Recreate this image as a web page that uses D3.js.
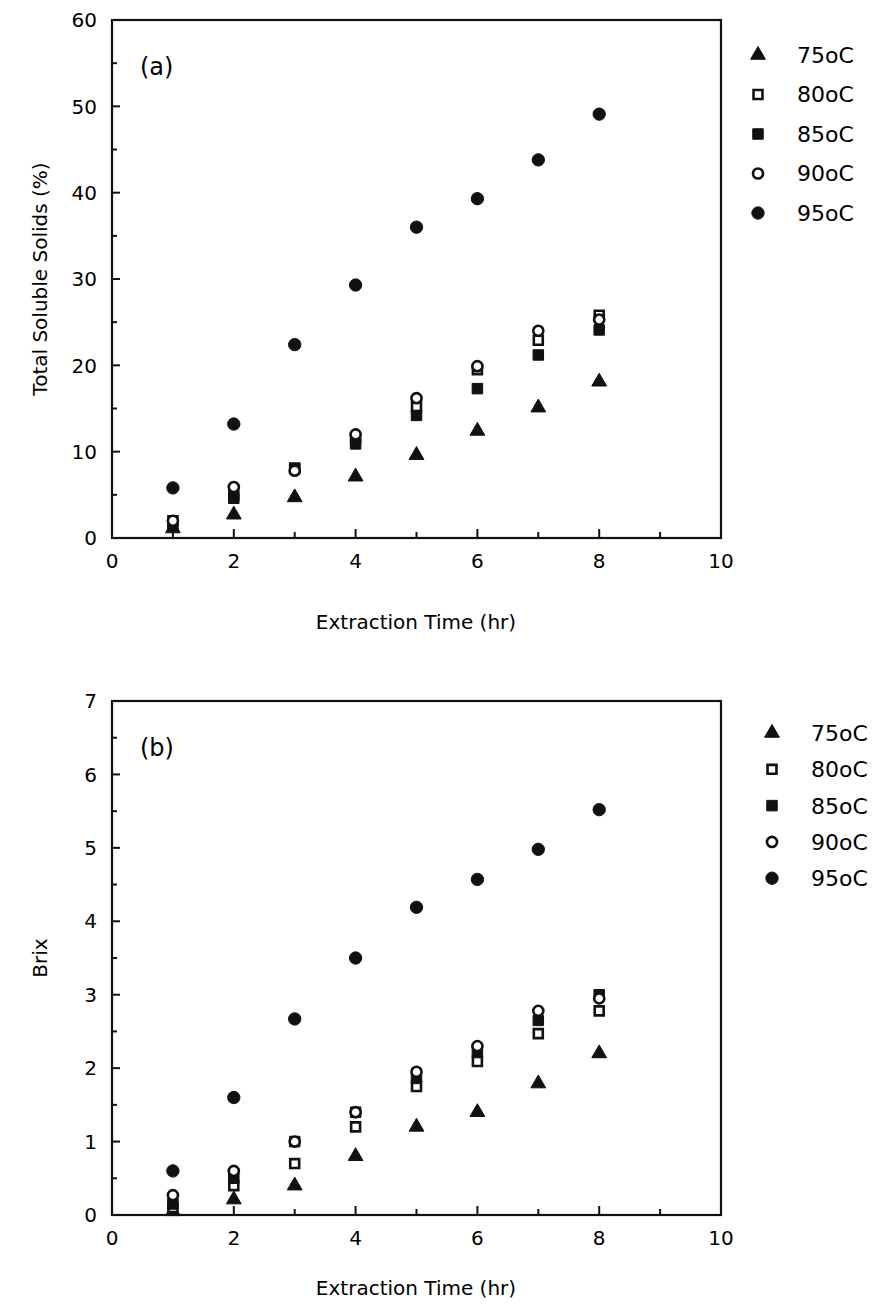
<!DOCTYPE html>
<html>
<head>
<meta charset="utf-8">
<script src="https://cdn.jsdelivr.net/npm/d3@7"></script>
<style>
  body { margin: 0; background: #fff; }
  text { font-family: "DejaVu Sans", Verdana, sans-serif; fill: #000; }
</style>
</head>
<body>
<svg id="chart" width="877" height="1310"></svg>
<script>
// extraction time (hr)
var times = [1, 2, 3, 4, 5, 6, 7, 8];
var seriesNames = ["75oC", "80oC", "85oC", "90oC", "95oC"];

// panel (a) total soluble solids (%)
var tss75 = [1.1, 2.7, 4.7, 7.1, 9.6, 12.4, 15.1, 18.1];
var tss80 = [2.0, 5.0, 8.1, 11.5, 15.2, 19.5, 22.9, 25.8];
var tss85 = [1.5, 4.6, 8.0, 10.9, 14.2, 17.3, 21.2, 24.1];
var tss90 = [2.0, 5.9, 7.8, 12.0, 16.2, 19.9, 24.0, 25.3];
var tss95 = [5.8, 13.2, 22.4, 29.3, 36.0, 39.3, 43.8, 49.1];

// panel (b) brix
var brix75 = [0.05, 0.21, 0.4, 0.8, 1.2, 1.4, 1.79, 2.2];
var brix80 = [0.1, 0.4, 0.7, 1.2, 1.75, 2.09, 2.47, 2.78];
var brix85 = [0.15, 0.5, 1.0, 1.4, 1.86, 2.22, 2.65, 3.0];
var brix90 = [0.27, 0.6, 1.0, 1.4, 1.95, 2.3, 2.78, 2.95];
var brix95 = [0.6, 1.6, 2.67, 3.5, 4.19, 4.57, 4.98, 5.52];

var xTicks = [0, 2, 4, 6, 8, 10];
var yTicksA = [0, 10, 20, 30, 40, 50, 60];
var yTicksB = [0, 1, 2, 3, 4, 5, 6, 7];

var svg = d3.select("#chart");

// marker styles, one per series (same order as seriesNames)
var markers = [
  { type: d3.symbolTriangle, size: 95, fill: "#111" },
  { type: d3.symbolSquare, size: 80, fill: "#fff" },
  { type: d3.symbolSquare, size: 110, fill: "#111" },
  { type: d3.symbolCircle, size: 80, fill: "#fff" },
  { type: d3.symbolCircle, size: 120, fill: "#111" }
];

function drawMarker(g, i, x, y) {
  var m = markers[i];
  g.append("path")
    .attr("d", d3.symbol().type(m.type).size(m.size)())
    .attr("transform", "translate(" + x + "," + y + ")")
    .attr("fill", m.fill)
    .attr("stroke", "#111")
    .attr("stroke-width", m.fill === "#fff" ? 2.6 : 1);
}

function panel(opt) {
  var g = svg.append("g");
  var x = d3.scaleLinear().domain([0, 10]).range([112, 721]);
  var y = d3.scaleLinear().domain([0, opt.yMax]).range([opt.bottom, opt.top]);

  // inward ticks: minor every half step, major at labels
  var minorY = d3.range(0, opt.yMax + 1e-9, opt.yStep / 2);
  minorY.forEach(v => {
    var major = Math.abs(v / opt.yStep - Math.round(v / opt.yStep)) < 1e-6;
    g.append("line")
      .attr("x1", 112).attr("x2", 112 + (major ? 8 : 5))
      .attr("y1", y(v)).attr("y2", y(v))
      .attr("stroke", "#111").attr("stroke-width", 2);
  });
  d3.range(0, 11).forEach(v => {
    g.append("line")
      .attr("x1", x(v)).attr("x2", x(v))
      .attr("y1", opt.bottom).attr("y2", opt.bottom - (v % 2 === 0 ? 9 : 6))
      .attr("stroke", "#111").attr("stroke-width", 2);
  });

  g.append("rect")
    .attr("x", 112).attr("y", opt.top)
    .attr("width", 721 - 112).attr("height", opt.bottom - opt.top)
    .attr("fill", "none").attr("stroke", "#111").attr("stroke-width", 2.2);

  g.selectAll(".ylab").data(opt.yTicks).enter().append("text")
    .attr("x", 97).attr("y", d => y(d)).attr("dy", "0.36em")
    .attr("text-anchor", "end").attr("font-size", 20)
    .text(d => d);
  g.selectAll(".xlab").data(xTicks).enter().append("text")
    .attr("x", d => x(d)).attr("y", opt.bottom + 30)
    .attr("text-anchor", "middle").attr("font-size", 20)
    .text(d => d);

  g.append("text")
    .attr("x", 416).attr("y", opt.bottom + opt.titleGap)
    .attr("text-anchor", "middle").attr("font-size", 20)
    .text("Extraction Time (hr)");
  g.append("text")
    .attr("transform", "translate(47," + ((opt.top + opt.bottom) / 2) + ") rotate(-90)")
    .attr("text-anchor", "middle").attr("font-size", 20)
    .text(opt.yTitle);

  g.append("text")
    .attr("x", 140).attr("y", opt.top + 47).attr("dy", "0.35em")
    .attr("font-size", 24)
    .text(opt.label);

  // data points
  opt.series.forEach((vals, i) => {
    vals.forEach((v, j) => drawMarker(g, i, x(times[j]), y(v)));
  });

  // legend
  seriesNames.forEach((name, i) => {
    var ly = opt.legendTop + i * opt.legendGap;
    drawMarker(g, i, opt.legendX, ly);
    g.append("text")
      .attr("x", opt.legendX + 39).attr("y", ly).attr("dy", "0.36em")
      .attr("font-size", 22)
      .text(name);
  });
}

panel({
  top: 20, bottom: 538, yMax: 60, yStep: 10, yTicks: yTicksA,
  yTitle: "Total Soluble Solids (%)", label: "(a)", titleGap: 91,
  series: [tss75, tss80, tss85, tss90, tss95],
  legendX: 758, legendTop: 55, legendGap: 39.5
});

panel({
  top: 701, bottom: 1215, yMax: 7, yStep: 1, yTicks: yTicksB,
  yTitle: "Brix", label: "(b)", titleGap: 80,
  series: [brix75, brix80, brix85, brix90, brix95],
  legendX: 772, legendTop: 733, legendGap: 36.3
});
</script>
</body>
</html>
